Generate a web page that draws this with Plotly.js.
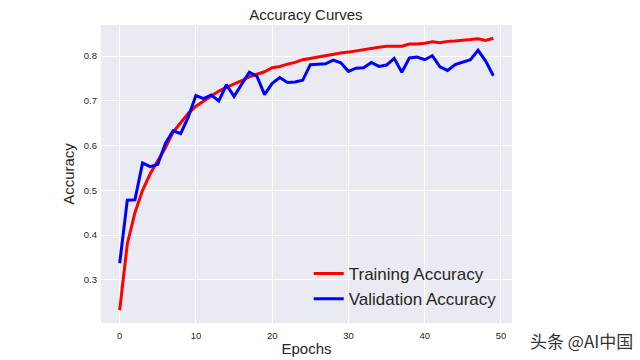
<!DOCTYPE html>
<html>
<head>
<meta charset="utf-8">
<script src="https://cdn.plot.ly/plotly-3.0.1.min.js"></script>
<style>html,body{margin:0;padding:0;background:#fff;}#chart{width:640px;height:360px;}</style>
</head>
<body>
<div id="chart"></div>
<script>
const epochs = Array.from({length: 50}, (_, i) => i);
const trainingAccuracy = [
  0.232, 0.380, 0.450, 0.500, 0.537, 0.567, 0.595, 0.630, 0.652, 0.672,
  0.688, 0.700, 0.712, 0.722, 0.730, 0.737, 0.745, 0.754, 0.760, 0.765,
  0.774, 0.777, 0.782, 0.786, 0.792, 0.795, 0.799, 0.802, 0.805, 0.807,
  0.809, 0.812, 0.814, 0.818, 0.820, 0.822, 0.822, 0.822, 0.827, 0.827,
  0.829, 0.832, 0.830, 0.833, 0.834, 0.835, 0.837, 0.839, 0.835, 0.840
];
const validationAccuracy = [
  0.337, 0.478, 0.479, 0.561, 0.553, 0.558, 0.605, 0.633, 0.627, 0.664,
  0.712, 0.705, 0.713, 0.700, 0.736, 0.710, 0.737, 0.764, 0.755, 0.714,
  0.739, 0.752, 0.741, 0.742, 0.746, 0.781, 0.782, 0.783, 0.791, 0.785,
  0.766, 0.773, 0.774, 0.786, 0.777, 0.780, 0.795, 0.764, 0.796, 0.798,
  0.792, 0.801, 0.776, 0.768, 0.781, 0.787, 0.792, 0.813, 0.789, 0.756
];
const xTicks = [0, 10, 20, 30, 40, 50];
const yTicks = [0.3, 0.4, 0.5, 0.6, 0.7, 0.8];

const font = 'Liberation Sans, Arial, sans-serif';
const traces = [
  {x: epochs, y: trainingAccuracy, type: 'scatter', mode: 'lines', name: 'Training Accuracy',
   line: {color: '#ff0000', width: 3}},
  {x: epochs, y: validationAccuracy, type: 'scatter', mode: 'lines', name: 'Validation Accuracy',
   line: {color: '#0000ff', width: 3}}
];
const layout = {
  width: 640, height: 360,
  margin: {l: 101, r: 128, t: 25, b: 37, pad: 0},
  paper_bgcolor: '#ffffff',
  plot_bgcolor: '#eaeaf2',
  font: {family: font, color: '#262626'},
  title: {text: 'Accuracy Curves', font: {size: 15, color: '#262626'}, x: 0.478, xanchor: 'center', y: 0.96, yanchor: 'middle'},
  xaxis: {
    range: [-2.45, 51.45], tickvals: xTicks, ticktext: xTicks.map(String),
    showgrid: true, gridcolor: '#ffffff', gridwidth: 1, zeroline: false, showline: false,
    ticks: '', ticklabelstandoff: 5, tickfont: {size: 9.5, color: '#262626'},
    title: {text: 'Epochs', font: {size: 15, color: '#262626'}, standoff: 3}
  },
  yaxis: {
    range: [0.2034, 0.8696], tickvals: yTicks, ticktext: yTicks.map(v => v.toFixed(1)),
    showgrid: true, gridcolor: '#ffffff', gridwidth: 1, zeroline: false, showline: false,
    ticks: '', ticklabelstandoff: 3, tickfont: {size: 9.5, color: '#262626'},
    title: {text: 'Accuracy', font: {size: 15, color: '#262626'}, standoff: 5}
  },
  legend: {x: 0.975, y: 0.02, xanchor: 'right', yanchor: 'bottom', bgcolor: 'rgba(0,0,0,0)',
           font: {size: 17, color: '#262626'}, tracegroupgap: 0},
  showlegend: true,
  annotations: [{
    text: '头条 @AI中国', xref: 'paper', yref: 'paper', x: 1.3, y: -0.06,
    xanchor: 'right', yanchor: 'middle', showarrow: false,
    font: {family: 'Noto Sans CJK SC, sans-serif', size: 17, color: '#333333'}
  }]
};
Plotly.newPlot('chart', traces, layout, {displayModeBar: false, staticPlot: true});
</script>
</body>
</html>
